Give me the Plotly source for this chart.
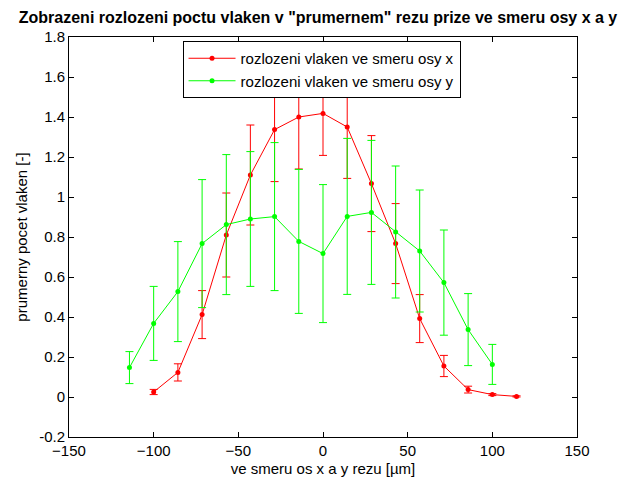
import plotly.graph_objects as go

# Positions along the cut [µm]
x_osa_x = [-100, -85.7, -71.4, -57.1, -42.9, -28.6, -14.3, 0, 14.3, 28.6, 42.9, 57.1, 71.4, 85.7, 100, 114.3]
x_osa_y = [-114.3, -100, -85.7, -71.4, -57.1, -42.9, -28.6, -14.3, 0, 14.3, 28.6, 42.9, 57.1, 71.4, 85.7, 100]

# Mean fibre count and its spread, direction x
pocet_x = [0.025, 0.123, 0.412, 0.81, 1.11, 1.337, 1.40, 1.418, 1.35, 1.067, 0.767, 0.392, 0.155, 0.037, 0.012, 0.003]
chyba_x = [0.013, 0.043, 0.12, 0.21, 0.25, 0.26, 0.26, 0.21, 0.257, 0.24, 0.2, 0.12, 0.053, 0.017, 0.005, 0.003]

# Mean fibre count and its spread, direction y
pocet_y = [0.147, 0.368, 0.527, 0.767, 0.862, 0.89, 0.902, 0.778, 0.717, 0.903, 0.923, 0.825, 0.73, 0.572, 0.337, 0.163]
chyba_y = [0.08, 0.185, 0.25, 0.32, 0.35, 0.337, 0.37, 0.36, 0.345, 0.39, 0.36, 0.33, 0.305, 0.263, 0.18, 0.10]

x_ticks = [-150, -100, -50, 0, 50, 100, 150]
y_ticks = [-0.2, 0, 0.2, 0.4, 0.6, 0.8, 1, 1.2, 1.4, 1.6, 1.8]
y_tick_text = ["-0.2", "0", "0.2", "0.4", "0.6", "0.8", "1", "1.2", "1.4", "1.6", "1.8"]

FONT = "Liberation Sans"

fig = go.Figure()
fig.add_trace(go.Scatter(
    x=x_osa_x, y=pocet_x, mode="lines+markers",
    name="rozlozeni vlaken ve smeru osy x",
    line=dict(color="#ff0000", width=1),
    marker=dict(color="#ff0000", size=5),
    error_y=dict(type="data", array=chyba_x, visible=True, color="#ff0000", thickness=1, width=4),
))
fig.add_trace(go.Scatter(
    x=x_osa_y, y=pocet_y, mode="lines+markers",
    name="rozlozeni vlaken ve smeru osy y",
    line=dict(color="#00ff00", width=1),
    marker=dict(color="#00ff00", size=5),
    error_y=dict(type="data", array=chyba_y, visible=True, color="#00ff00", thickness=1, width=4),
))

axis_common = dict(
    showline=True, linecolor="black", linewidth=1, mirror="allticks",
    ticks="inside", ticklen=5, tickcolor="black", showgrid=False, zeroline=False,
    tickfont=dict(family=FONT, size=15, color="black"), automargin=False,
)

fig.update_layout(
    width=619, height=479,
    margin=dict(l=69, r=42, t=37, b=42),
    paper_bgcolor="white", plot_bgcolor="white",
    title=dict(
        text='<b>Zobrazeni rozlozeni poctu vlaken v "prumernem" rezu prize ve smeru osy x a y</b>',
        font=dict(family=FONT, size=16, color="black"),
        x=318 / 619, xanchor="center", xref="container",
        y=1 - 17 / 479, yanchor="middle", yref="container",
    ),
    xaxis=dict(
        range=[-150, 150], tickvals=x_ticks,
        title=dict(text="ve smeru os x a y rezu [µm]", font=dict(family=FONT, size=15, color="black"), standoff=5),
        **axis_common,
    ),
    yaxis=dict(
        range=[-0.2, 1.8], tickvals=y_ticks, ticktext=y_tick_text,
        title=dict(text="prumerny pocet vlaken [-]", font=dict(family=FONT, size=15, color="black"), standoff=7),
        **axis_common,
    ),
    legend=dict(
        x=0.2235, y=0.99, xanchor="left", yanchor="top",
        bgcolor="white", bordercolor="black", borderwidth=1,
        itemwidth=47,
        font=dict(family=FONT, size=15, color="black"),
    ),
    showlegend=True,
)

fig.write_html("out.html")
